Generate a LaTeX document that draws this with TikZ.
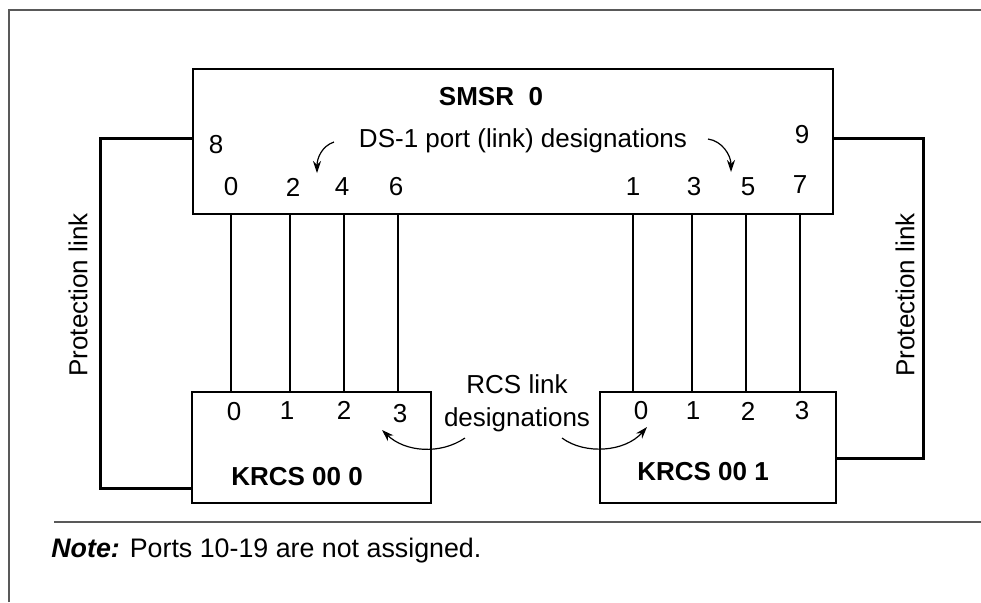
\documentclass[tikz,border=0pt]{standalone}
\usepackage{fontspec}
\setmainfont{Liberation Sans}
\usetikzlibrary{arrows.meta}

\tikzset{
  unitbox/.style={draw,line width=1pt,inner sep=0pt},
  protect/.style={draw,line width=1.5pt},
  pointer/.style={draw,line width=0.6pt,-{Stealth[length=6pt,width=4pt]}},
  frameline/.style={draw,gray!70!black,line width=0.6pt}
}

\begin{document}
\begin{tikzpicture}[x=0.5pt,y=-0.5pt,font=\fontsize{13}{16.5}\selectfont]

      \useasboundingbox (0,0) rectangle (981,602);
      \path[frameline] (9,602) -- (9,10) -- (981,10);
      \path[frameline] (54,522) -- (981,522);

      \begin{scope}[every node/.style={unitbox}]
        \node (smsr)  at (513,141.5) [minimum width=320pt,minimum height=72.5pt] {};
        \node (krcsA) at (311.5,447.5) [minimum width=119.5pt,minimum height=55.5pt] {};
        \node (krcsB) at (718,447.5) [minimum width=118pt,minimum height=55.5pt] {};
      \end{scope}

      \node (smsrname)  at (491,97)  {\bfseries SMSR\ \ 0};
      \node (krcsAname) at (297,477) {\bfseries KRCS 00 0};
      \node (krcsBname) at (703,472) {\bfseries KRCS 00 1};
      \node (ds)  at (523,141) {DS-1 port (link) designations};
      \node (rcs) at (517,403) [align=center] {RCS link\\designations};

      % port numbers on the SMSR
      \begin{scope}[every node/.style={inner sep=0pt}]
        \node (s8) at (216,145) {8};
        \node (s9) at (802,135) {9};
        \node (s0) at (231,187) {0};
        \node (s2) at (293,187) {2};
        \node (s4) at (342,187) {4};
        \node (s6) at (396,187) {6};
        \node (s1) at (633,187) {1};
        \node (s3) at (694,187) {3};
        \node (s5) at (748,187) {5};
        \node (s7) at (800,185) {7};
        \node (a0) at (234,412) {0};
        \node (a1) at (287,411) {1};
        \node (a2) at (344,410) {2};
        \node (a3) at (400,414) {3};
        \node (b0) at (641,411) {0};
        \node (b1) at (693,411) {1};
        \node (b2) at (748,411) {2};
        \node (b3) at (802,411) {3};
      \end{scope}

      \begin{scope}[every edge/.style={draw,line width=1pt}]
        \path (231,0 |- smsr.south) edge (231,0 |- krcsA.north);
        \path (290,0 |- smsr.south) edge (290,0 |- krcsA.north);
        \path (344,0 |- smsr.south) edge (344,0 |- krcsA.north);
        \path (398,0 |- smsr.south) edge (398,0 |- krcsA.north);
        \path (633,0 |- smsr.south) edge (633,0 |- krcsB.north);
        \path (692,0 |- smsr.south) edge (692,0 |- krcsB.north);
        \path (746,0 |- smsr.south) edge (746,0 |- krcsB.north);
        \path (800,0 |- smsr.south) edge (800,0 |- krcsB.north);
      \end{scope}

      % protection links
      \path[protect] (smsr.west |- 0,138) -- (100,138) -- (100,488) -- (krcsA.west |- 0,488);
      \path[protect] (smsr.east |- 0,138) -- (923,138) -- (923,458) -- (krcsB.east |- 0,458);
      \node (protA) at (78,295)  [rotate=90] {Protection link};
      \node (protB) at (905,295) [rotate=90] {Protection link};

      % pointers
      \path[pointer] (334,142) .. controls (322,146) and (317,158) .. (317,173);
      \path[pointer] (708,139) .. controls (722,141) and (731,155) .. (731,172);
      \path[pointer] (465,438) .. controls (440,455) and (405,452) .. (382,430);
      \path[pointer] (562,438) .. controls (585,455) and (625,452) .. (647,427);

      \node (note) at (51,551) [anchor=west,inner sep=0pt,font=\fontsize{13.4}{16}\selectfont] {\textbf{\textit{Note:}} Ports 10-19 are not assigned.};

    \end{tikzpicture}
\end{document}
